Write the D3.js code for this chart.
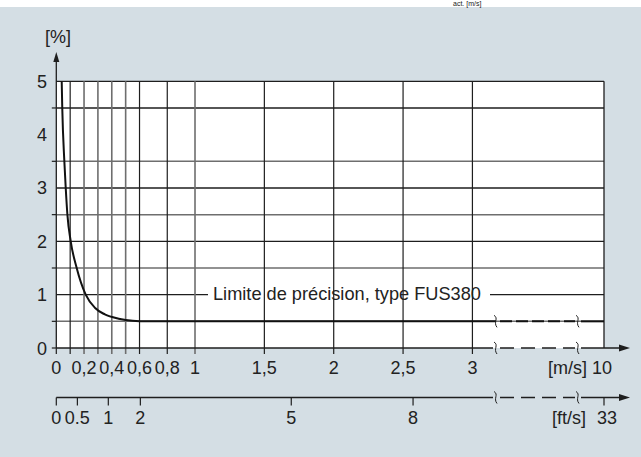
<!DOCTYPE html>
<html><head><meta charset="utf-8">
<script src="https://cdn.jsdelivr.net/npm/d3@7/dist/d3.min.js"></script>
<style>html,body{margin:0;padding:0;background:#d4dee4;}svg{display:block;font-family:"Liberation Sans",Arial,sans-serif;}</style>
</head><body><svg id="c" width="641" height="457"></svg>
<script>
// ---- data ----
const msGridValues = [0.1,0.2,0.3,0.4,0.5,0.6,0.8,1,1.5,2,2.5,3];
const msGridDark   = [true,false,false,false,false,true,true,false,true,true,true,true];
const msLabelValues = [0,0.2,0.4,0.6,0.8,1,1.5,2,2.5,3,10];
const msLabelText   = ["0","0,2","0,4","0,6","0,8","1","1,5","2","2,5","3","10"];
const ftTickValues  = [0,0.152,0.375,0.606,1.694,2.572,10]; // positions read in m/s
const ftLabelText   = ["0","0.5","1","2","5","8","33"];
const yGridValues = [0.5,1,1.5,2,2.5,3,3.5,4.5,5];
const yLabelValues = [0,1,2,3,4,5];
const curveX = [0.039,0.043,0.058,0.068,0.08,0.104,0.147,0.212,0.28,0.35,0.45,0.55,0.65,1.0,2.0,3.17];
const curveY = [5.0,4.5,3.5,3.0,2.5,2.0,1.5,1.0,0.75,0.63,0.55,0.51,0.5,0.5,0.5,0.5];
const breakFrom = 3.17, breakTo = 9.8, xMax = 10, curveEnd = 0.5;
const labelText = "Limite de précision, type FUS380";

// ---- chart ----
const svg = d3.select("#c");
const x = d3.scaleLinear().domain([0, breakFrom, breakTo, xMax]).range([56.3, 496, 578, 604]);
const y = d3.scaleLinear().domain([0, 5]).range([348, 81.3]);
const dark = "#1e1e1e", gray = "#6e6e6e", FS = 18;

// top white strip with (cropped) caption text
svg.append("rect").attr("x",0).attr("y",0).attr("width",641).attr("height",7).attr("fill","#fff");
svg.append("text").attr("x",453).attr("y",6).attr("font-size",7).attr("fill","#222").text("act. [m/s]");

// plot area
svg.append("rect").attr("x",x(0)).attr("y",y(5)).attr("width",x(xMax)-x(0)).attr("height",y(0)-y(5)).attr("fill","#fff");

// horizontal gridlines
yGridValues.forEach(v=>{
  const isInt = Number.isInteger(v);
  const g = svg.append("g");
  if (v === 1) {
    g.append("line").attr("x1",x(0)).attr("x2",208).attr("y1",y(v)).attr("y2",y(v)).attr("stroke",dark).attr("stroke-width",1.2);
    g.append("line").attr("x1",490).attr("x2",x(xMax)).attr("y1",y(v)).attr("y2",y(v)).attr("stroke",dark).attr("stroke-width",1.2);
  } else {
    g.append("line").attr("x1",x(0)).attr("x2",x(xMax)).attr("y1",y(v)).attr("y2",y(v))
      .attr("stroke",isInt||v===4.5?dark:gray).attr("stroke-width",isInt?1.3:1.5);
  }
  if (!isInt) svg.append("line").attr("x1",x(0)-4.5).attr("x2",x(0)).attr("y1",y(v)).attr("y2",y(v)).attr("stroke",dark).attr("stroke-width",1.2);
});
svg.append("line").attr("x1",x(0)-4.5).attr("x2",x(0)).attr("y1",y(0)).attr("y2",y(0)).attr("stroke",dark).attr("stroke-width",1.2);

// vertical gridlines + ticks
msGridValues.forEach((v,i)=>{
  svg.append("line").attr("x1",x(v)).attr("x2",x(v)).attr("y1",y(5)).attr("y2",y(0)+6)
    .attr("stroke",msGridDark[i]?dark:gray).attr("stroke-width",msGridDark[i]?1.2:1.6);
});
svg.append("line").attr("x1",x(0)).attr("x2",x(0)).attr("y1",y(0)).attr("y2",y(0)+6).attr("stroke",dark).attr("stroke-width",1.2);
// right border
svg.append("line").attr("x1",x(xMax)).attr("x2",x(xMax)).attr("y1",y(5)).attr("y2",y(0)).attr("stroke",dark).attr("stroke-width",1.3);

// label over 1% line
svg.append("text").attr("x",213).attr("y",y(1)+5.5).attr("font-size",18.2).attr("fill","#222").text(labelText);

// squiggle helper
function squiggle(cx, cy){
  const p = `M${cx-2},${cy-6} C${cx+3},${cy-3} ${cx-3},${cy+1} ${cx+1},${cy+6}`;
  svg.append("path").attr("d",p).attr("fill","none").attr("stroke",dark).attr("stroke-width",1);
}

// curve
const line = d3.line().x((d,i)=>x(curveX[i])).y(d=>y(d)).curve(d3.curveMonotoneX);
svg.append("path").datum(curveY).attr("d",line).attr("fill","none").attr("stroke","#111").attr("stroke-width",2);
svg.append("line").attr("x1",x(breakFrom)+4).attr("x2",x(breakTo)-3).attr("y1",y(curveEnd)).attr("y2",y(curveEnd))
  .attr("stroke","#111").attr("stroke-width",2).attr("stroke-dasharray","12,4");
svg.append("line").attr("x1",x(breakTo)+3).attr("x2",x(xMax)).attr("y1",y(curveEnd)).attr("y2",y(curveEnd)).attr("stroke","#111").attr("stroke-width",2);
squiggle(x(breakFrom), y(curveEnd));
squiggle(x(breakTo), y(curveEnd));

// y axis
svg.append("line").attr("x1",x(0)).attr("x2",x(0)).attr("y1",y(0)).attr("y2",58).attr("stroke",dark).attr("stroke-width",1.3);
svg.append("path").attr("d",`M${x(0)},52 L${x(0)+3},62 L${x(0)-3},62 Z`).attr("fill",dark);
svg.append("text").attr("x",58).attr("y",43).attr("text-anchor","middle").attr("font-size",FS).attr("fill","#222").text("[%]");
svg.selectAll(".yl").data(yLabelValues).enter().append("text")
  .attr("x",47).attr("y",d=>y(d)+6.5).attr("text-anchor","end").attr("font-size",FS).attr("fill","#222").text(d=>d);

// horizontal axis helper
function hAxis(ay){
  svg.append("line").attr("x1",x(0)).attr("x2",x(breakFrom)-3).attr("y1",ay).attr("y2",ay).attr("stroke",dark).attr("stroke-width",1.3);
  svg.append("line").attr("x1",x(breakFrom)+4).attr("x2",x(breakTo)-3).attr("y1",ay).attr("y2",ay).attr("stroke",dark).attr("stroke-width",1.3).attr("stroke-dasharray","14,7");
  svg.append("line").attr("x1",x(breakTo)+3).attr("x2",622).attr("y1",ay).attr("y2",ay).attr("stroke",dark).attr("stroke-width",1.3);
  svg.append("path").attr("d",`M630,${ay} L619,${ay-3.5} L619,${ay+3.5} Z`).attr("fill",dark);
  squiggle(x(breakFrom), ay);
  squiggle(x(breakTo), ay);
}
hAxis(y(0));
svg.selectAll(".ml").data(msLabelValues).enter().append("text")
  .attr("x",(d)=>x(d)+(d===10?-2:0)).attr("y",374).attr("text-anchor","middle").attr("font-size",FS).attr("fill","#222")
  .text((d,i)=>msLabelText[i]);
svg.append("text").attr("x",587).attr("y",374).attr("text-anchor","end").attr("font-size",FS).attr("fill","#222").text("[m/s]");

// ft/s axis
const ftY = 397.5;
hAxis(ftY);
ftTickValues.forEach(v=>{
  svg.append("line").attr("x1",x(v)).attr("x2",x(v)).attr("y1",ftY).attr("y2",ftY+8).attr("stroke",dark).attr("stroke-width",1.2);
});
svg.selectAll(".fl").data(ftTickValues).enter().append("text")
  .attr("x",(d)=>x(d)+(d===10?3:0)).attr("y",424).attr("text-anchor","middle").attr("font-size",FS).attr("fill","#222")
  .text((d,i)=>ftLabelText[i]);
svg.append("text").attr("x",586).attr("y",424).attr("text-anchor","end").attr("font-size",FS).attr("fill","#222").text("[ft/s]");
</script></body></html>
